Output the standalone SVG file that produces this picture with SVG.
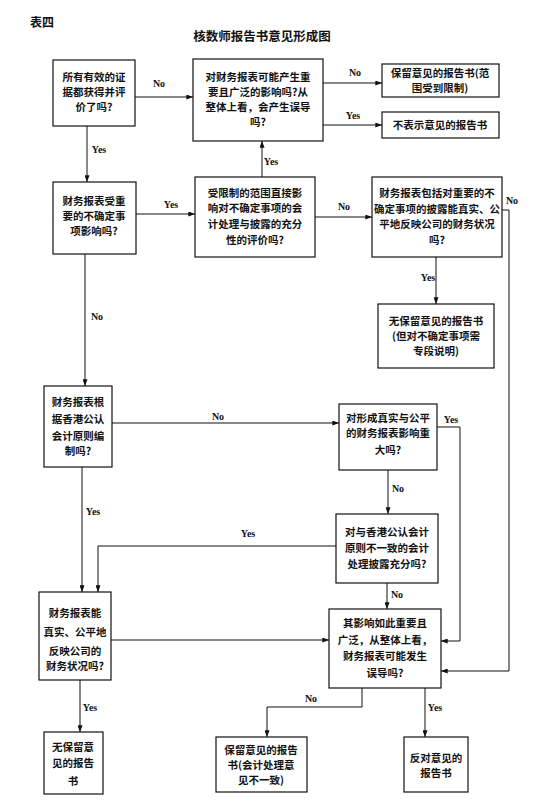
<svg xmlns="http://www.w3.org/2000/svg" width="547" height="807" viewBox="0 0 547 807">
<style>
.box{fill:#fff;stroke:#111;stroke-width:1.2}
.t{font-family:"Noto Sans CJK SC","Noto Sans CJK TC",sans-serif;font-size:10.5px;font-weight:bold;fill:#111;text-anchor:middle}
.lbl{font-family:"Liberation Serif",serif;font-size:10px;font-weight:bold;fill:#111;text-anchor:middle}
.ttl{font-family:"Noto Sans CJK SC",sans-serif;font-weight:bold;fill:#111}
.c{fill:none;stroke:#111;stroke-width:1}
</style>
<defs>
<marker id="ah" viewBox="0 0 8 6" refX="8" refY="3" markerWidth="7" markerHeight="5" markerUnits="userSpaceOnUse" orient="auto">
<path d="M0,0 L8,3 L0,6 Z" fill="#111"/>
</marker>
</defs>
<rect width="547" height="807" fill="#fff"/>
<text class="ttl" x="30" y="27" font-size="12">表四</text>
<text class="ttl" x="262" y="41" font-size="12.5" text-anchor="middle">核数师报告书意见形成图</text>

<g id="connectors">
<path class="c" d="M135,97 H193" marker-end="url(#ah)"/>
<path class="c" d="M87,126 V182" marker-end="url(#ah)"/>
<path class="c" d="M323,83 H382" marker-end="url(#ah)"/>
<path class="c" d="M323,125 H382" marker-end="url(#ah)"/>
<path class="c" d="M262,177 V141" marker-end="url(#ah)"/>
<path class="c" d="M136,214 H195" marker-end="url(#ah)"/>
<path class="c" d="M315,217 H372" marker-end="url(#ah)"/>
<path class="c" d="M436,257 V304" marker-end="url(#ah)"/>
<path class="c" d="M502,210 H509 V671 H441" marker-end="url(#ah)"/>
<path class="c" d="M85,254 V386" marker-end="url(#ah)"/>
<path class="c" d="M112,423 H339" marker-end="url(#ah)"/>
<path class="c" d="M82,467 V592" marker-end="url(#ah)"/>
<path class="c" d="M388,470 V514" marker-end="url(#ah)"/>
<path class="c" d="M437,427 H460 V641 H441" marker-end="url(#ah)"/>
<path class="c" d="M336,546 H98 V592" marker-end="url(#ah)"/>
<path class="c" d="M387,583 V609" marker-end="url(#ah)"/>
<path class="c" d="M111,640 H329" marker-end="url(#ah)"/>
<path class="c" d="M80,680 V732" marker-end="url(#ah)"/>
<path class="c" d="M362,688 V707 H267 V737" marker-end="url(#ah)"/>
<path class="c" d="M425,688 V737" marker-end="url(#ah)"/>
<text class="lbl" x="159" y="87">No</text>
<text class="lbl" x="99" y="153">Yes</text>
<text class="lbl" x="355" y="76">No</text>
<text class="lbl" x="353" y="119">Yes</text>
<text class="lbl" x="271" y="165">Yes</text>
<text class="lbl" x="171" y="208">Yes</text>
<text class="lbl" x="344" y="210">No</text>
<text class="lbl" x="512" y="204">No</text>
<text class="lbl" x="428" y="281">Yes</text>
<text class="lbl" x="97" y="320">No</text>
<text class="lbl" x="218" y="420">No</text>
<text class="lbl" x="93" y="515">Yes</text>
<text class="lbl" x="248" y="537">Yes</text>
<text class="lbl" x="451" y="423">Yes</text>
<text class="lbl" x="398" y="492">No</text>
<text class="lbl" x="397" y="598">No</text>
<text class="lbl" x="90" y="711">Yes</text>
<text class="lbl" x="311" y="702">No</text>
<text class="lbl" x="435" y="711">Yes</text>
</g>

<g id="A"><rect class="box" x="53" y="60" width="82" height="66"/>
<text class="t" x="94" y="81">所有有效的证</text><text class="t" x="94" y="96">据都获得并评</text><text class="t" x="94" y="111">价了吗?</text></g>
<g id="B"><rect class="box" x="193" y="59" width="130" height="82"/>
<text class="t" x="258" y="81">对财务报表可能产生重</text><text class="t" x="258" y="96">要且广泛的影响吗?从</text><text class="t" x="258" y="111">整体上看，会产生误导</text><text class="t" x="258" y="126">吗?</text></g>
<g id="C"><rect class="box" x="382" y="64" width="117" height="33"/>
<text class="t" x="440" y="77">保留意见的报告书(范</text><text class="t" x="440" y="92">围受到限制)</text></g>
<g id="D"><rect class="box" x="382" y="112" width="117" height="26"/>
<text class="t" x="440" y="129">不表示意见的报告书</text></g>
<g id="E"><rect class="box" x="53" y="182" width="83" height="72"/>
<text class="t" x="94" y="205">财务报表受重</text><text class="t" x="94" y="220">要的不确定事</text><text class="t" x="94" y="235">项影响吗?</text></g>
<g id="F"><rect class="box" x="195" y="177" width="120" height="80"/>
<text class="t" x="255" y="197">受限制的范围直接影</text><text class="t" x="255" y="212">响对不确定事项的会</text><text class="t" x="255" y="228">计处理与披露的充分</text><text class="t" x="255" y="244">性的评价吗?</text></g>
<g id="G"><rect class="box" x="372" y="177" width="130" height="80"/>
<text class="t" x="437" y="197">财务报表包括对重要的不</text><text class="t" x="437" y="213">确定事项的披露能真实、公</text><text class="t" x="437" y="228">平地反映公司的财务状况</text><text class="t" x="437" y="244">吗?</text></g>
<g id="H"><rect class="box" x="378" y="304" width="116" height="64"/>
<text class="t" x="436" y="325">无保留意见的报告书</text><text class="t" x="436" y="340">(但对不确定事项需</text><text class="t" x="436" y="355">专段说明)</text></g>
<g id="I"><rect class="box" x="44" y="386" width="68" height="81"/>
<text class="t" x="78" y="406">财务报表根</text><text class="t" x="78" y="423">据香港公认</text><text class="t" x="78" y="440">会计原则编</text><text class="t" x="78" y="455">制吗?</text></g>
<g id="J"><rect class="box" x="339" y="404" width="98" height="66"/>
<text class="t" x="388" y="422">对形成真实与公平</text><text class="t" x="388" y="437">的财务报表影响重</text><text class="t" x="388" y="454">大吗?</text></g>
<g id="K"><rect class="box" x="336" y="514" width="102" height="69"/>
<text class="t" x="387" y="536">对与香港公认会计</text><text class="t" x="387" y="552">原则不一致的会计</text><text class="t" x="387" y="568">处理披露充分吗?</text></g>
<g id="L"><rect class="box" x="329" y="609" width="112" height="79"/>
<text class="t" x="385" y="627">其影响如此重要且</text><text class="t" x="385" y="644">广泛，从整体上看，</text><text class="t" x="385" y="660">财务报表可能发生</text><text class="t" x="385" y="677">误导吗?</text></g>
<g id="M"><rect class="box" x="39" y="592" width="72" height="88"/>
<text class="t" x="75" y="617">财务报表能</text><text class="t" x="75" y="636">真实、公平地</text><text class="t" x="75" y="655">反映公司的</text><text class="t" x="75" y="670">财务状况吗?</text></g>
<g id="N"><rect class="box" x="44" y="732" width="59" height="62"/>
<text class="t" x="73" y="751">无保留意</text><text class="t" x="73" y="767">见的报告</text><text class="t" x="73" y="785">书</text></g>
<g id="O"><rect class="box" x="216" y="737" width="91" height="55"/>
<text class="t" x="261" y="754">保留意见的报告</text><text class="t" x="261" y="769">书(会计处理意</text><text class="t" x="261" y="784">见不一致)</text></g>
<g id="P"><rect class="box" x="404" y="737" width="64" height="55"/>
<text class="t" x="436" y="762">反对意见的</text><text class="t" x="436" y="777">报告书</text></g>
</svg>
